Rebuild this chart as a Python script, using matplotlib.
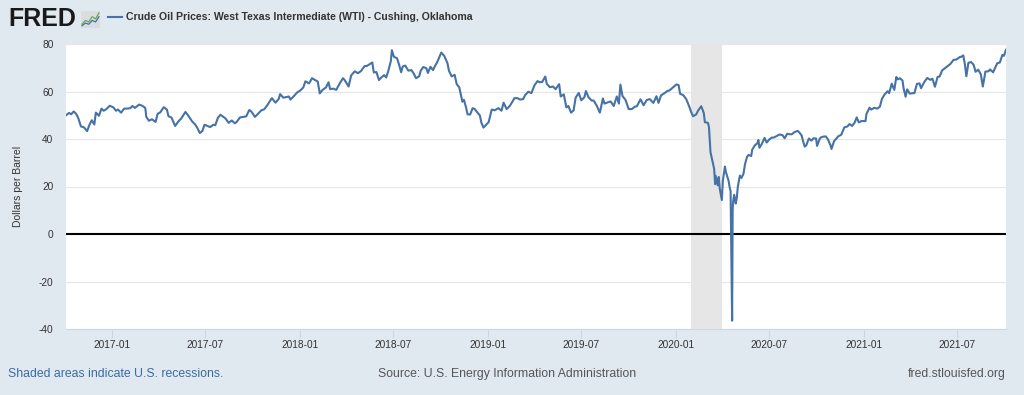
import matplotlib
matplotlib.use('Agg')
import matplotlib.pyplot as plt
from matplotlib.lines import Line2D
import pandas as pd

plt.rcParams['font.family'] = ['Liberation Sans', 'DejaVu Sans']

# ---------------- data ----------------
dates = [
    '2016-10-04', '2016-10-10', '2016-10-14', '2016-10-19', '2016-10-24', '2016-10-28',
    '2016-11-02', '2016-11-08', '2016-11-14', '2016-11-18', '2016-11-23', '2016-11-28',
    '2016-12-01', '2016-12-07', '2016-12-12', '2016-12-16', '2016-12-21', '2016-12-28',
    '2017-01-04', '2017-01-09', '2017-01-13', '2017-01-19', '2017-01-25', '2017-01-31',
    '2017-02-06', '2017-02-10', '2017-02-15', '2017-02-23', '2017-03-01', '2017-03-07',
    '2017-03-09', '2017-03-14', '2017-03-20', '2017-03-27', '2017-03-31', '2017-04-05',
    '2017-04-12', '2017-04-18', '2017-04-21', '2017-04-27', '2017-05-04', '2017-05-10',
    '2017-05-16', '2017-05-24', '2017-05-30', '2017-06-06', '2017-06-12', '2017-06-16',
    '2017-06-21', '2017-06-26', '2017-06-30', '2017-07-06', '2017-07-11', '2017-07-17',
    '2017-07-21', '2017-07-26', '2017-07-31', '2017-08-04', '2017-08-10', '2017-08-16',
    '2017-08-22', '2017-08-28', '2017-09-01', '2017-09-07', '2017-09-13', '2017-09-19',
    '2017-09-25', '2017-09-29', '2017-10-06', '2017-10-12', '2017-10-18', '2017-10-24',
    '2017-10-30', '2017-11-03', '2017-11-08', '2017-11-15', '2017-11-21', '2017-11-24',
    '2017-11-30', '2017-12-05', '2017-12-11', '2017-12-14', '2017-12-20', '2017-12-27',
    '2018-01-02', '2018-01-08', '2018-01-12', '2018-01-19', '2018-01-25', '2018-01-31',
    '2018-02-05', '2018-02-09', '2018-02-14', '2018-02-21', '2018-02-26', '2018-03-01',
    '2018-03-07', '2018-03-13', '2018-03-20', '2018-03-26', '2018-03-29', '2018-04-06',
    '2018-04-11', '2018-04-18', '2018-04-24', '2018-04-30', '2018-05-07', '2018-05-11',
    '2018-05-17', '2018-05-22', '2018-05-25', '2018-05-30', '2018-06-04', '2018-06-08',
    '2018-06-14', '2018-06-18', '2018-06-22', '2018-06-27', '2018-06-29', '2018-07-03',
    '2018-07-09', '2018-07-13', '2018-07-17', '2018-07-20', '2018-07-25', '2018-07-31',
    '2018-08-06', '2018-08-10', '2018-08-15', '2018-08-21', '2018-08-24', '2018-08-29',
    '2018-09-04', '2018-09-07', '2018-09-12', '2018-09-17', '2018-09-21', '2018-09-25',
    '2018-10-01', '2018-10-03', '2018-10-09', '2018-10-15', '2018-10-18', '2018-10-23',
    '2018-10-29', '2018-11-02', '2018-11-07', '2018-11-13', '2018-11-16', '2018-11-20',
    '2018-11-23', '2018-11-28', '2018-12-03', '2018-12-07', '2018-12-12', '2018-12-17',
    '2018-12-20', '2018-12-24', '2018-12-28', '2019-01-03', '2019-01-09', '2019-01-15',
    '2019-01-22', '2019-01-28', '2019-02-01', '2019-02-07', '2019-02-13', '2019-02-19',
    '2019-02-22', '2019-02-28', '2019-03-05', '2019-03-11', '2019-03-15', '2019-03-21',
    '2019-03-27', '2019-04-02', '2019-04-08', '2019-04-12', '2019-04-17', '2019-04-23',
    '2019-04-26', '2019-05-02', '2019-05-08', '2019-05-13', '2019-05-20', '2019-05-23',
    '2019-05-29', '2019-06-03', '2019-06-07', '2019-06-12', '2019-06-17', '2019-06-21',
    '2019-06-27', '2019-07-02', '2019-07-08', '2019-07-11', '2019-07-16', '2019-07-22',
    '2019-07-26', '2019-08-01', '2019-08-07', '2019-08-13', '2019-08-16', '2019-08-22',
    '2019-08-28', '2019-09-03', '2019-09-09', '2019-09-13', '2019-09-16', '2019-09-20',
    '2019-09-26', '2019-10-02', '2019-10-08', '2019-10-14', '2019-10-18', '2019-10-25',
    '2019-10-31', '2019-11-06', '2019-11-12', '2019-11-19', '2019-11-25', '2019-11-29',
    '2019-12-04', '2019-12-10', '2019-12-16', '2019-12-20', '2019-12-27', '2020-01-03',
    '2020-01-07', '2020-01-10', '2020-01-16', '2020-01-22', '2020-01-28', '2020-01-31',
    '2020-02-04', '2020-02-10', '2020-02-14', '2020-02-20', '2020-02-25', '2020-02-27',
    '2020-03-04', '2020-03-06', '2020-03-09', '2020-03-12', '2020-03-16', '2020-03-18',
    '2020-03-19', '2020-03-23', '2020-03-25', '2020-03-27', '2020-03-31', '2020-04-02',
    '2020-04-06', '2020-04-08', '2020-04-13', '2020-04-15', '2020-04-17', '2020-04-20',
    '2020-04-21', '2020-04-22', '2020-04-24', '2020-04-27', '2020-04-29', '2020-05-01',
    '2020-05-05', '2020-05-08', '2020-05-12', '2020-05-15', '2020-05-19', '2020-05-22',
    '2020-05-27', '2020-05-29', '2020-06-03', '2020-06-08', '2020-06-10', '2020-06-12',
    '2020-06-17', '2020-06-22', '2020-06-26', '2020-07-01', '2020-07-06', '2020-07-10',
    '2020-07-15', '2020-07-21', '2020-07-27', '2020-07-31', '2020-08-05', '2020-08-10',
    '2020-08-14', '2020-08-19', '2020-08-25', '2020-08-28', '2020-09-02', '2020-09-04',
    '2020-09-08', '2020-09-11', '2020-09-16', '2020-09-21', '2020-09-25', '2020-09-30',
    '2020-10-02', '2020-10-07', '2020-10-09', '2020-10-14', '2020-10-19', '2020-10-23',
    '2020-10-28', '2020-10-30', '2020-11-04', '2020-11-09', '2020-11-12', '2020-11-18',
    '2020-11-24', '2020-11-30', '2020-12-04', '2020-12-09', '2020-12-14', '2020-12-18',
    '2020-12-22', '2020-12-28', '2021-01-04', '2021-01-06', '2021-01-12', '2021-01-15',
    '2021-01-21', '2021-01-27', '2021-02-01', '2021-02-05', '2021-02-10', '2021-02-16',
    '2021-02-19', '2021-02-24', '2021-03-01', '2021-03-05', '2021-03-08', '2021-03-12',
    '2021-03-17', '2021-03-19', '2021-03-23', '2021-03-26', '2021-03-31', '2021-04-06',
    '2021-04-09', '2021-04-14', '2021-04-19', '2021-04-22', '2021-04-28', '2021-05-04',
    '2021-05-10', '2021-05-14', '2021-05-19', '2021-05-24', '2021-05-28', '2021-06-02',
    '2021-06-08', '2021-06-14', '2021-06-18', '2021-06-24', '2021-06-30', '2021-07-06',
    '2021-07-09', '2021-07-13', '2021-07-16', '2021-07-19', '2021-07-23', '2021-07-28',
    '2021-08-02', '2021-08-06', '2021-08-11', '2021-08-16', '2021-08-20', '2021-08-25',
    '2021-08-31', '2021-09-03', '2021-09-09', '2021-09-14', '2021-09-17', '2021-09-22',
    '2021-09-27', '2021-09-30', '2021-10-04',
]
prices = [
    50.0, 51.0, 50.4, 51.6, 50.5, 48.7,
    45.3, 44.9, 43.3, 45.7, 47.9, 46.1,
    51.1, 49.8, 52.8, 51.9, 52.5, 54.0,
    53.3, 51.9, 52.4, 51.1, 52.8, 52.8,
    53.0, 53.9, 53.1, 54.5, 54.0, 53.1,
    49.3, 47.7, 48.3, 47.2, 50.6, 51.2,
    53.4, 52.4, 49.6, 49.0, 45.5, 47.3,
    48.7, 51.4, 49.7, 47.4, 46.1, 44.7,
    42.5, 43.4, 46.0, 45.5, 45.0, 46.0,
    45.8, 48.9, 50.2, 49.6, 48.6, 46.8,
    47.8, 46.6, 47.3, 49.1, 49.3, 49.5,
    52.2, 51.6, 49.3, 50.6, 52.0, 52.5,
    54.2, 55.6, 57.2, 55.3, 56.8, 58.9,
    57.4, 57.6, 57.9, 56.6, 57.9, 59.6,
    60.4, 61.7, 64.3, 63.4, 65.6, 64.8,
    64.2, 59.2, 60.6, 61.7, 63.9, 61.0,
    61.2, 60.7, 63.5, 65.6, 64.9, 62.1,
    66.8, 68.5, 67.7, 68.6, 70.7, 70.7,
    71.5, 72.2, 68.0, 68.2, 64.8, 65.8,
    66.9, 65.9, 68.6, 72.8, 77.4, 74.6,
    74.0, 71.3, 68.1, 70.5, 70.9, 68.8,
    69.0, 67.7, 65.6, 66.4, 68.7, 70.3,
    69.8, 67.8, 70.4, 69.0, 70.8, 72.3,
    75.3, 76.4, 74.9, 71.9, 68.7, 66.4,
    67.0, 63.1, 61.7, 55.7, 56.5, 53.4,
    50.4, 50.3, 53.0, 52.6, 51.2, 49.9,
    46.8, 44.8, 45.7, 47.1, 52.4, 52.1,
    53.0, 51.9, 55.3, 52.6, 53.9, 56.0,
    57.2, 57.2, 56.6, 56.8, 58.5, 59.9,
    59.3, 62.6, 64.4, 63.9, 64.0, 66.3,
    63.2, 61.8, 62.1, 61.0, 63.1, 57.9,
    58.8, 53.3, 53.9, 51.1, 52.0, 57.4,
    59.4, 56.3, 57.6, 60.2, 57.6, 56.2,
    56.2, 54.0, 51.1, 57.1, 54.9, 55.4,
    55.8, 53.9, 57.9, 54.9, 62.9, 58.1,
    56.4, 52.6, 52.6, 53.6, 53.8, 56.7,
    54.2, 56.4, 56.8, 55.2, 58.0, 55.2,
    58.4, 59.2, 60.2, 60.4, 61.7, 63.0,
    62.7, 59.0, 58.5, 56.7, 53.5, 51.6,
    49.6, 50.3, 52.0, 53.8, 50.9, 47.1,
    46.8, 45.0, 34.4, 31.5, 27.5, 21.0,
    24.5, 20.5, 24.0, 19.0, 14.3, 22.5,
    28.4, 26.0, 22.5, 19.9, 18.0, -36.5,
    10.0, 13.8, 16.5, 12.8, 15.1, 19.8,
    24.6, 23.6, 25.3, 29.4, 32.5, 33.3,
    32.8, 35.5, 37.3, 38.2, 39.6, 36.3,
    38.0, 40.5, 38.5, 39.8, 40.6, 40.6,
    41.2, 41.9, 41.6, 40.3, 42.2, 42.0,
    42.0, 42.9, 43.4, 42.9, 41.5, 39.7,
    36.8, 37.3, 40.2, 39.3, 40.3, 40.2,
    37.1, 40.0, 40.6, 41.0, 41.1, 39.9,
    37.4, 35.8, 39.1, 40.3, 41.1, 41.8,
    44.9, 45.3, 46.3, 45.5, 46.9, 49.1,
    47.0, 47.6, 47.5, 50.6, 53.2, 52.4,
    53.1, 52.8, 53.6, 56.9, 58.7, 60.1,
    59.3, 63.3, 60.7, 66.1, 65.1, 65.6,
    64.6, 61.4, 57.8, 60.9, 59.1, 59.3,
    59.3, 63.2, 63.4, 61.4, 63.9, 65.7,
    64.9, 65.4, 62.0, 66.1, 66.3, 68.9,
    69.9, 70.9, 71.6, 73.3, 73.5, 74.5,
    74.6, 75.2, 71.6, 66.4, 72.1, 72.4,
    71.3, 68.3, 69.2, 67.3, 62.1, 68.4,
    68.5, 69.3, 68.1, 70.5, 71.9, 72.2,
    75.4, 75.0, 77.6,
]
recession_start = '2020-02-01'
recession_end = '2020-04-01'
x_start = '2016-10-04'
x_end = '2021-10-04'
y_ticks = [-40, -20, 0, 20, 40, 60, 80]
x_tick_labels = ['2017-01', '2017-07', '2018-01', '2018-07', '2019-01',
                 '2019-07', '2020-01', '2020-07', '2021-01', '2021-07']
series_title = 'Crude Oil Prices: West Texas Intermediate (WTI) - Cushing, Oklahoma'
y_label = 'Dollars per Barrel'
footer_left = 'Shaded areas indicate U.S. recessions.'
footer_mid = 'Source: U.S. Energy Information Administration'
footer_right = 'fred.stlouisfed.org'

# ---------------- figure ----------------
W, H = 1024, 395
BG = '#e1e9f0'
LINE = '#4572a7'
fig = plt.figure(figsize=(W / 100, H / 100), dpi=100, facecolor=BG)
ax = fig.add_axes([66 / W, (H - 329) / H, 940 / W, 285 / H])
ax.set_facecolor('white')

x = pd.to_datetime(dates)
ax.axvspan(pd.Timestamp(recession_start), pd.Timestamp(recession_end),
           color='#e6e6e6', lw=0, zorder=1)
ax.plot(x, prices, color=LINE, lw=1.5, zorder=3, solid_joinstyle='round')
ax.axhline(0, color='black', lw=1.5, zorder=2)

ax.set_xlim(pd.Timestamp(x_start), pd.Timestamp(x_end))
ax.set_ylim(-40, 80)
ax.set_yticks(y_ticks)
ax.set_yticklabels([str(v) for v in y_ticks])
ax.set_xticks(pd.to_datetime([t + '-01' for t in x_tick_labels]))
ax.set_xticklabels(x_tick_labels)
ax.grid(axis='y', color='#e6e6e6', lw=0.8, zorder=0)
ax.set_axisbelow(True)
for s in ['top', 'right', 'left']:
    ax.spines[s].set_visible(False)
ax.spines['bottom'].set_color('#ccd6eb')
ax.spines['bottom'].set_linewidth(0.8)
ax.tick_params(axis='x', length=6.5, width=0.8, color='#ccd6eb', labelsize=7.3,
               labelcolor='#333333', pad=1.5)
ax.tick_params(axis='y', length=0, labelsize=7.3, labelcolor='#333333', pad=9)
ax.set_ylabel(y_label, fontsize=7.5, color='#333333')
ax.yaxis.set_label_coords(-(66 - 23) / 940, 0.5)

# header
fig.text(8 / W, 1 - 19 / H, 'FRED', fontsize=18, fontweight='bold',
         color='#1a1a1a', va='center', ha='left')
icon = fig.add_axes([81 / W, 1 - 28 / H, 19 / W, 17 / H])
icon.set_facecolor('#d9dde0')
icon.plot([0, 1, 2, 3, 4, 5], [1, 2, 1.6, 3, 2.4, 4], color='#6aa84f', lw=0.9)
icon.plot([0, 1, 2, 3, 4, 5], [0.6, 1.3, 1.0, 2.0, 1.6, 3.0], color='#4572a7', lw=0.9)
icon.set_xlim(-0.3, 5.3)
icon.set_ylim(0, 4.5)
icon.set_xticks([])
icon.set_yticks([])
for s in icon.spines.values():
    s.set_visible(False)

fig.add_artist(Line2D([108 / W, 122 / W], [1 - 17 / H, 1 - 17 / H], color=LINE, lw=1.5))
fig.text(126 / W, 1 - 17 / H, series_title, fontsize=7.6, fontweight='bold',
         color='#333333', va='center', ha='left')

# footer
fig.text(8 / W, 1 - 374 / H, footer_left, fontsize=8.8, color='#3a6aa5',
         va='center', ha='left')
fig.text(507 / W, 1 - 374 / H, footer_mid, fontsize=8.8, color='#555555',
         va='center', ha='center')
fig.text(1006 / W, 1 - 374 / H, footer_right, fontsize=8.8, color='#555555',
         va='center', ha='right')

fig.savefig('out.png', dpi=100, facecolor=BG)
